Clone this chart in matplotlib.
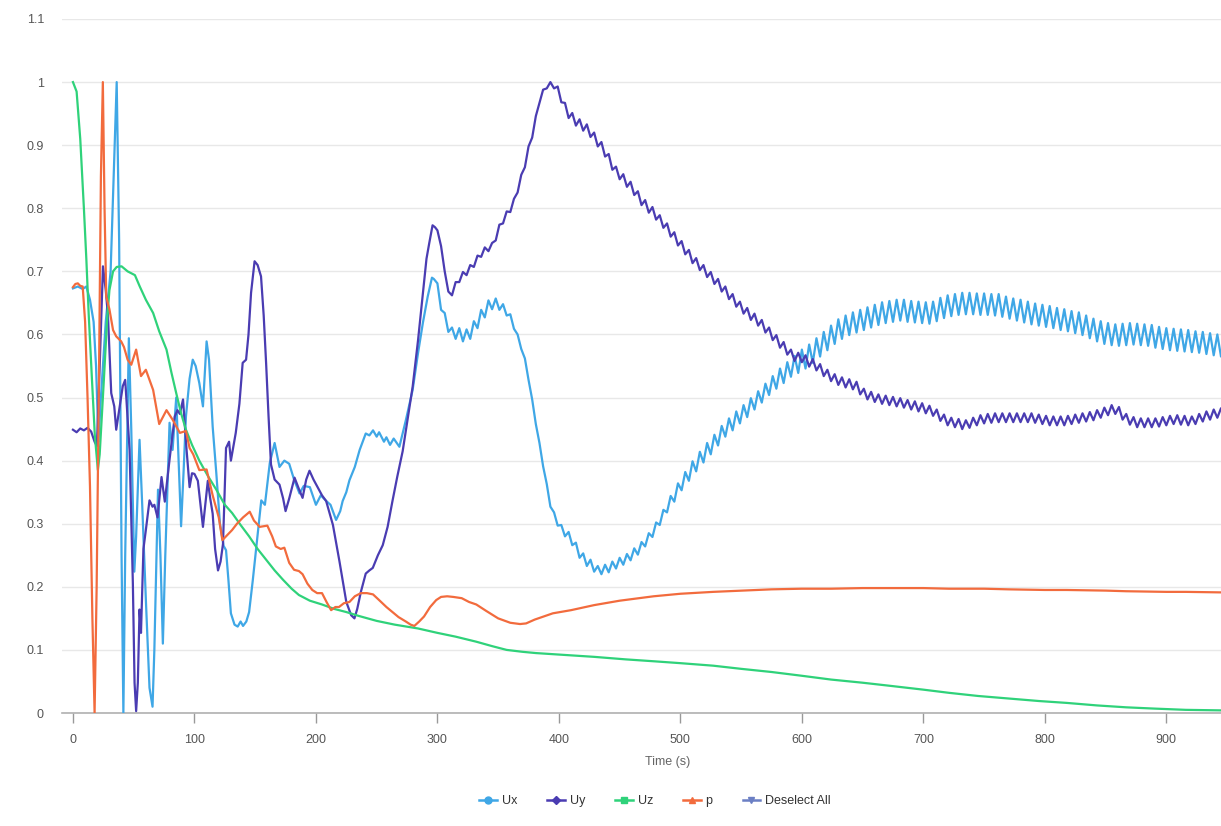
import numpy as np
import matplotlib.pyplot as plt
from matplotlib.ticker import FuncFormatter, MultipleLocator

# ---- data ----
# early, irregular part (0 .. ~300 s)
ux_t0 = [0, 4, 8, 11, 14, 17, 19, 21, 23, 27, 31, 34, 36, 38, 40, 41.5, 43, 46, 48, 50.5,
         52, 54.8, 57, 60, 63, 65.5, 67, 70, 72, 74, 76, 79.5, 82, 85, 87, 89, 91, 93, 96, 98.6,
         101, 104, 107, 110, 112, 115, 118, 121, 124, 126, 128, 130, 133, 135.6, 138, 140, 142.7,
         145, 148, 151, 155, 158, 162, 166, 170, 174, 178, 182, 186.5, 190, 195, 200, 204, 208.5,
         212, 216.6, 220, 222, 225, 227.6, 232, 236, 241, 244, 247, 250, 252, 256, 258, 261, 264,
         268.7, 271, 274, 279.6, 284, 288, 292, 295.5, 297]
ux_v0 = [0.673, 0.676, 0.672, 0.676, 0.655, 0.62, 0.55, 0.43, 0.50, 0.62, 0.70, 0.88, 1.0, 0.75,
         0.25, 0.0, 0.25, 0.594, 0.45, 0.224, 0.28, 0.433, 0.33, 0.18, 0.04, 0.01, 0.10, 0.354,
         0.25, 0.11, 0.25, 0.46, 0.417, 0.50, 0.40, 0.296, 0.38, 0.47, 0.53, 0.56, 0.55, 0.523,
         0.486, 0.589, 0.56, 0.454, 0.38, 0.30, 0.265, 0.258, 0.21, 0.158, 0.14, 0.137, 0.145,
         0.138, 0.145, 0.16, 0.21, 0.264, 0.337, 0.33, 0.396, 0.428, 0.39, 0.40, 0.395, 0.37,
         0.348, 0.36, 0.358, 0.33, 0.345, 0.336, 0.33, 0.306, 0.32, 0.336, 0.35, 0.369, 0.39,
         0.417, 0.443, 0.44, 0.448, 0.438, 0.445, 0.43, 0.437, 0.425, 0.435, 0.422, 0.44, 0.464,
         0.512, 0.57, 0.618, 0.66, 0.690, 0.688]

uy_t0 = [0, 3, 6, 9, 12, 15, 17.8, 19.7, 22, 24.7, 27, 28.8, 31.5, 34, 35.6, 38, 41, 43, 46.6,
         49.3, 50.7, 52, 53.4, 54.8, 56, 58, 60, 63, 65.5, 67, 69.6, 72.9, 75.6, 79.7, 83.8, 86,
         88, 90.6, 93.4, 96, 98, 100, 102.8, 105, 107, 111, 113, 115, 117, 119.4, 121.5, 123.5,
         126, 128.5, 130, 134, 137, 139.7, 142.5, 144.5, 146.6, 149.5, 152, 154.8, 157, 159, 161,
         163, 166, 170, 173, 175, 178, 182.4, 186, 189, 192, 194.7, 198, 201.6, 205, 208.4, 214,
         219.4, 225, 229, 231.7, 234, 237, 241, 244, 246.8, 251, 255, 259, 263, 267, 271.4, 275,
         279.6, 284, 287.8, 291, 293.3, 296, 298]
uy_v0 = [0.449, 0.445, 0.451, 0.448, 0.452, 0.446, 0.43, 0.423, 0.55, 0.708, 0.67, 0.63, 0.507,
         0.486, 0.449, 0.48, 0.518, 0.528, 0.417, 0.206, 0.048, 0.003, 0.048, 0.164, 0.127, 0.26,
         0.29, 0.337, 0.327, 0.33, 0.31, 0.374, 0.335, 0.405, 0.47, 0.48, 0.474, 0.497, 0.42,
         0.358, 0.38, 0.379, 0.368, 0.33, 0.295, 0.368, 0.34, 0.316, 0.26, 0.226, 0.24, 0.268,
         0.42, 0.43, 0.40, 0.444, 0.49, 0.555, 0.56, 0.60, 0.666, 0.716, 0.71, 0.692, 0.63, 0.554,
         0.47, 0.394, 0.37, 0.362, 0.34, 0.32, 0.34, 0.373, 0.355, 0.341, 0.37, 0.384, 0.37, 0.357,
         0.345, 0.336, 0.298, 0.24, 0.176, 0.155, 0.15, 0.165, 0.192, 0.221, 0.226, 0.23, 0.25,
         0.266, 0.295, 0.336, 0.375, 0.415, 0.46, 0.517, 0.59, 0.66, 0.72, 0.745, 0.773, 0.77]

# later part, sampled every 3 s starting at 300 s (values read incl. the small ripple)
t_start, t_step = 300, 3
ux_v1 = [0.681, 0.639, 0.634, 0.604, 0.611, 0.593, 0.610, 0.589, 0.608, 0.593,
         0.621, 0.610, 0.639, 0.627, 0.654, 0.640, 0.657, 0.639, 0.648, 0.630,
         0.632, 0.609, 0.600, 0.577, 0.562, 0.528, 0.497, 0.458, 0.428, 0.391,
         0.363, 0.327, 0.318, 0.297,
         0.298, 0.280, 0.287, 0.266, 0.270, 0.246, 0.253, 0.233, 0.243, 0.224,
         0.233, 0.220, 0.235, 0.223, 0.240, 0.229, 0.246, 0.235, 0.252, 0.242,
         0.261, 0.251, 0.271, 0.264, 0.285, 0.279, 0.302, 0.298, 0.322, 0.318,
         0.344, 0.335, 0.364, 0.353, 0.382, 0.368, 0.399, 0.383, 0.414, 0.397,
         0.428, 0.410, 0.441, 0.424, 0.455, 0.438, 0.467, 0.448, 0.478, 0.459,
         0.488, 0.469, 0.499, 0.481, 0.510, 0.492, 0.522, 0.504, 0.534, 0.514,
         0.546, 0.523, 0.556, 0.533, 0.566, 0.539, 0.576, 0.546, 0.584, 0.555,
         0.594, 0.565, 0.604, 0.575, 0.614, 0.585, 0.624, 0.593, 0.630, 0.599,
         0.635, 0.603, 0.639, 0.607, 0.643, 0.611, 0.647, 0.615, 0.651, 0.618,
         0.653, 0.620, 0.655, 0.622, 0.655, 0.620, 0.653, 0.619, 0.652, 0.618,
         0.651, 0.617, 0.652, 0.621, 0.658, 0.626, 0.662, 0.629, 0.664, 0.631,
         0.666, 0.632, 0.666, 0.632, 0.665, 0.631, 0.665, 0.631, 0.664, 0.630,
         0.664, 0.628, 0.660, 0.625, 0.657, 0.622, 0.655, 0.619, 0.652, 0.616,
         0.649, 0.614, 0.647, 0.612, 0.645, 0.610, 0.642, 0.607, 0.640, 0.605,
         0.637, 0.602, 0.635, 0.599, 0.630, 0.594, 0.625, 0.589, 0.621, 0.585,
         0.618, 0.583, 0.616, 0.582, 0.617, 0.583, 0.618, 0.584, 0.617, 0.583,
         0.616, 0.582, 0.615, 0.579, 0.612, 0.577, 0.610, 0.575, 0.609, 0.574,
         0.608, 0.573, 0.607, 0.572, 0.605, 0.571, 0.604, 0.569, 0.602, 0.567,
         0.600, 0.565, 0.598, 0.563]
uy_v1 = [0.765, 0.740, 0.700, 0.668, 0.662, 0.683, 0.683, 0.699, 0.694, 0.710,
         0.707, 0.725, 0.723, 0.738, 0.732, 0.745, 0.749, 0.774, 0.776, 0.795,
         0.794, 0.815, 0.825, 0.853, 0.865, 0.898, 0.912, 0.946, 0.967, 0.988,
         0.990, 1.000, 0.990, 0.993,
         0.968, 0.967, 0.943, 0.951, 0.931, 0.941, 0.923, 0.933, 0.913, 0.920,
         0.898, 0.905, 0.882, 0.886, 0.861, 0.866, 0.846, 0.854, 0.834, 0.842,
         0.821, 0.827, 0.805, 0.813, 0.793, 0.802, 0.782, 0.789, 0.769, 0.776,
         0.755, 0.762, 0.741, 0.748, 0.727, 0.734, 0.713, 0.721, 0.702, 0.710,
         0.691, 0.699, 0.680, 0.688, 0.668, 0.676, 0.656, 0.664, 0.644, 0.652,
         0.633, 0.642, 0.623, 0.633, 0.614, 0.623, 0.603, 0.611, 0.591, 0.599,
         0.579, 0.588, 0.568, 0.576, 0.558, 0.571, 0.556, 0.567, 0.549, 0.561,
         0.543, 0.553, 0.534, 0.544, 0.526, 0.537, 0.520, 0.532, 0.516, 0.529,
         0.513, 0.525, 0.505, 0.514, 0.497, 0.509, 0.493, 0.505, 0.490, 0.503,
         0.488, 0.501, 0.486, 0.499, 0.484, 0.496, 0.481, 0.494, 0.478, 0.491,
         0.475, 0.487, 0.471, 0.481, 0.463, 0.473, 0.456, 0.468, 0.453, 0.466,
         0.450, 0.464, 0.452, 0.468, 0.456, 0.472, 0.459, 0.474, 0.460, 0.475,
         0.461, 0.475, 0.461, 0.475, 0.461, 0.475, 0.461, 0.475, 0.461, 0.475,
         0.460, 0.473, 0.458, 0.471, 0.456, 0.470, 0.456, 0.470, 0.456, 0.471,
         0.458, 0.473, 0.460, 0.475, 0.462, 0.477, 0.464, 0.480, 0.468, 0.484,
         0.472, 0.488, 0.474, 0.485, 0.465, 0.474, 0.457, 0.469, 0.453, 0.467,
         0.453, 0.467, 0.453, 0.467, 0.454, 0.469, 0.456, 0.471, 0.458, 0.472,
         0.457, 0.471, 0.456, 0.470, 0.458, 0.474, 0.462, 0.478, 0.465, 0.481,
         0.468, 0.483, 0.470, 0.485]

p_t = [0, 2, 4, 6, 8, 10, 12, 14, 16, 17.8, 19.5, 21.5, 23, 24.6, 26, 27.4, 30, 33, 35.6, 39.7,
       42, 45, 48, 52, 56, 60, 66, 71, 77, 82, 88, 93, 96, 99, 104, 110, 115, 120, 123, 126, 131,
       135, 140, 145.5, 149, 153.7, 160, 164, 167, 171, 174, 178, 182, 186, 189, 193, 197, 201,
       205, 209, 212.5, 216, 219, 223, 227.6, 232, 237, 242, 247, 252, 258, 263, 268, 274, 278,
       281, 285, 289, 294, 299, 303, 308, 313, 320, 326, 332, 340, 350, 360, 368, 373, 380, 386,
       395, 410, 429, 450, 478, 500, 527, 551, 575, 600, 624, 650, 672, 700, 721, 750, 770, 800,
       818, 850, 867, 900, 916, 951]
p_v = [0.675, 0.680, 0.681, 0.677, 0.676, 0.62, 0.50, 0.36, 0.15, 0.0, 0.2, 0.55, 0.85, 1.0,
       0.80, 0.66, 0.64, 0.607, 0.597, 0.589, 0.58, 0.56, 0.552, 0.576, 0.534, 0.544, 0.512,
       0.458, 0.48, 0.465, 0.444, 0.447, 0.42, 0.41, 0.385, 0.386, 0.345, 0.31, 0.274, 0.28,
       0.29, 0.30, 0.31, 0.319, 0.305, 0.295, 0.297, 0.28, 0.264, 0.26, 0.262, 0.238, 0.227,
       0.225, 0.22, 0.205, 0.195, 0.19, 0.19, 0.175, 0.163, 0.168, 0.168, 0.174, 0.176, 0.185,
       0.19, 0.19, 0.188, 0.179, 0.168, 0.16, 0.152, 0.145, 0.14, 0.138, 0.145, 0.153, 0.168,
       0.179, 0.184, 0.185, 0.184, 0.182, 0.176, 0.172, 0.162, 0.15, 0.143, 0.141, 0.142, 0.148,
       0.152, 0.158, 0.163, 0.171, 0.178, 0.185, 0.189, 0.192, 0.194, 0.196, 0.197, 0.197,
       0.198, 0.198, 0.198, 0.197, 0.197, 0.196, 0.195, 0.195, 0.194, 0.193, 0.192, 0.192, 0.191]

uz_t = [0, 3, 6, 9, 11, 13, 15.6, 18, 20.5, 22, 25.5, 28, 30, 33, 36, 40, 45, 51, 55, 60, 66,
        71, 77, 81, 85, 89, 93, 98, 104, 111, 118, 125, 131, 138, 145, 152, 159, 166, 173, 180,
        186, 195, 205, 215, 225, 235, 250, 265, 284, 300, 315, 332, 345, 357, 370, 381, 405, 429,
        455, 478, 500, 527, 550, 575, 600, 624, 650, 673, 700, 721, 745, 770, 795, 818, 843, 867,
        890, 916, 951]
uz_v = [1.0, 0.985, 0.91, 0.80, 0.72, 0.63, 0.53, 0.44, 0.385, 0.41, 0.53, 0.62, 0.67, 0.70,
        0.707, 0.708, 0.70, 0.694, 0.676, 0.655, 0.634, 0.605, 0.576, 0.54, 0.507, 0.475, 0.449,
        0.425, 0.40, 0.376, 0.354, 0.33, 0.317, 0.298, 0.28, 0.26, 0.243, 0.226, 0.211, 0.197,
        0.187, 0.178, 0.172, 0.165, 0.16, 0.154, 0.146, 0.14, 0.134, 0.127, 0.121, 0.113, 0.106,
        0.10, 0.097, 0.095, 0.092, 0.089, 0.085, 0.082, 0.079, 0.075, 0.07, 0.065, 0.059, 0.053,
        0.048, 0.043, 0.037, 0.032, 0.027, 0.023, 0.019, 0.016, 0.012, 0.009, 0.007, 0.005, 0.004]

# join the two parts of Ux / Uy
ux_t = ux_t0 + list(np.arange(t_start, t_start + t_step * len(ux_v1), t_step))
ux_v = ux_v0 + ux_v1
uy_t = uy_t0 + list(np.arange(t_start, t_start + t_step * len(uy_v1), t_step))
uy_v = uy_v0 + uy_v1

c_ux = '#3fa7e6'
c_uy = '#4a3cb2'
c_uz = '#2fd27a'
c_p = '#f26b3d'
c_sel = '#6b7fc4'

plt.rcParams['font.family'] = ['Liberation Sans', 'DejaVu Sans']

fig = plt.figure(figsize=(12.21, 8.26), dpi=100)
ax = fig.add_axes([0.0508, 0.1368, 0.9492, 0.8402])

lw = 1.6
ax.plot(ux_t, ux_v, color=c_ux, lw=lw, solid_joinstyle='round', zorder=3)
ax.plot(uy_t, uy_v, color=c_uy, lw=lw, solid_joinstyle='round', zorder=3)
ax.plot(uz_t, uz_v, color=c_uz, lw=lw, solid_joinstyle='round', zorder=3)
ax.plot(p_t, p_v, color=c_p, lw=lw, solid_joinstyle='round', zorder=3)

ax.set_xlim(-9, 945)
ax.set_ylim(0, 1.1)
ax.yaxis.set_major_locator(MultipleLocator(0.1))
ax.xaxis.set_major_locator(MultipleLocator(100))
ax.yaxis.set_major_formatter(FuncFormatter(lambda v, pos: f'{v:.1f}'.rstrip('0').rstrip('.')))
ax.xaxis.set_major_formatter(FuncFormatter(lambda v, pos: f'{v:.0f}'))

ax.grid(axis='y', color='#e8e8e8', lw=1)
ax.set_axisbelow(True)
for s in ['top', 'right', 'left']:
    ax.spines[s].set_visible(False)
ax.spines['bottom'].set_color('#b0b0b0')
ax.spines['bottom'].set_linewidth(1.2)
ax.tick_params(axis='y', length=0, pad=13, labelsize=9, labelcolor='#555555')
ax.tick_params(axis='x', length=7, width=1, color='#999999', pad=8, labelsize=9,
               labelcolor='#555555')

fig.text(668 / 1221, 1 - 762 / 826, 'Time (s)', ha='center', va='center',
         fontsize=9, color='#666666')

# legend
handles = [
    plt.Line2D([], [], color=c_ux, marker='o', ms=5, lw=1.8),
    plt.Line2D([], [], color=c_uy, marker='D', ms=4, lw=1.8),
    plt.Line2D([], [], color=c_uz, marker='s', ms=5, lw=1.8),
    plt.Line2D([], [], color=c_p, marker='^', ms=5, lw=1.8),
    plt.Line2D([], [], color=c_sel, marker='v', ms=5, lw=1.8),
]
labels = ['Ux', 'Uy', 'Uz', 'p', 'Deselect All']
fig.legend(handles, labels, loc='center', bbox_to_anchor=(655 / 1221, 1 - 801 / 826),
           ncol=5, frameon=False, fontsize=9, handlelength=1.4, handletextpad=0.4,
           columnspacing=2.4, labelcolor='#333333', numpoints=1)

fig.savefig('out.png', dpi=100, facecolor='white')
